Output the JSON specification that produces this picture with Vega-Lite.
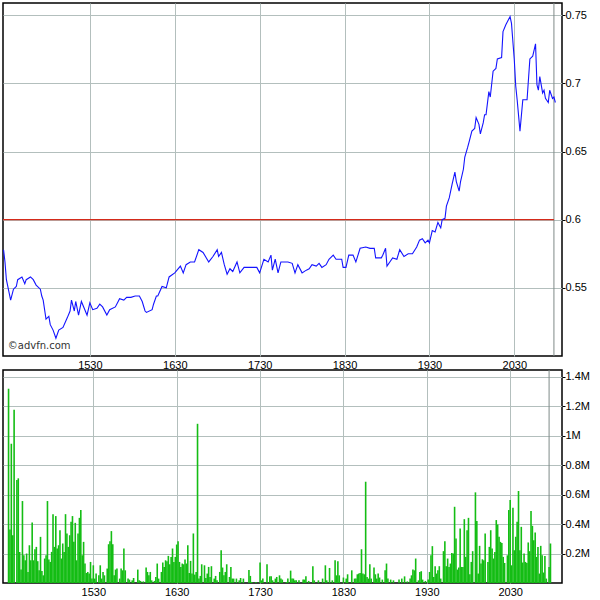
{
  "$schema": "https://vega.github.io/schema/vega-lite/v6.json",
  "padding": {"left": 1, "top": 1, "right": 0, "bottom": 0},
  "autosize": {"type": "pad"},
  "background": "white",
  "spacing": 14,
  "bounds": "flush",
  "config": {
    "view": {"stroke": "black", "strokeWidth": 1.5},
    "axis": {"labelFont": "Liberation Sans", "labelFontSize": 11, "labelColor": "black", "gridColor": "#b3bfbd", "gridOpacity": 1, "gridWidth": 1, "domain": false, "tickColor": "black", "title": null}
  },
  "datasets": {
    "price": [
      {"t":869,"p":0.578},{"t":870,"p":0.569},{"t":871,"p":0.556},{"t":874,"p":0.541},{"t":876,"p":0.549},{"t":878,"p":0.551},{"t":879,"p":0.556},{"t":882,"p":0.558},{"t":884,"p":0.553},{"t":885,"p":0.556},{"t":888,"p":0.558},{"t":890,"p":0.556},{"t":892,"p":0.552},{"t":895,"p":0.549},{"t":896,"p":0.544},{"t":897,"p":0.541},{"t":899,"p":0.527},{"t":901,"p":0.529},{"t":902,"p":0.523},{"t":904,"p":0.519},{"t":906,"p":0.513},{"t":908,"p":0.519},{"t":911,"p":0.521},{"t":914,"p":0.528},{"t":916,"p":0.533},{"t":917,"p":0.541},{"t":919,"p":0.533},{"t":920,"p":0.540},{"t":922,"p":0.530},{"t":924,"p":0.540},{"t":926,"p":0.535},{"t":928,"p":0.530},{"t":930,"p":0.539},{"t":932,"p":0.534},{"t":935,"p":0.535},{"t":937,"p":0.538},{"t":939,"p":0.536},{"t":942,"p":0.530},{"t":944,"p":0.534},{"t":948,"p":0.536},{"t":950,"p":0.540},{"t":951,"p":0.542},{"t":954,"p":0.541},{"t":956,"p":0.543},{"t":959,"p":0.543},{"t":962,"p":0.544},{"t":965,"p":0.544},{"t":967,"p":0.540},{"t":969,"p":0.533},{"t":970,"p":0.532},{"t":974,"p":0.534},{"t":975,"p":0.538},{"t":977,"p":0.544},{"t":978,"p":0.544},{"t":981,"p":0.551},{"t":984,"p":0.550},{"t":986,"p":0.558},{"t":990,"p":0.561},{"t":994,"p":0.566},{"t":996,"p":0.561},{"t":998,"p":0.567},{"t":1001,"p":0.569},{"t":1004,"p":0.569},{"t":1007,"p":0.578},{"t":1010,"p":0.576},{"t":1014,"p":0.569},{"t":1017,"p":0.573},{"t":1020,"p":0.578},{"t":1021,"p":0.573},{"t":1023,"p":0.576},{"t":1025,"p":0.567},{"t":1027,"p":0.560},{"t":1029,"p":0.564},{"t":1031,"p":0.562},{"t":1034,"p":0.569},{"t":1036,"p":0.561},{"t":1039,"p":0.565},{"t":1043,"p":0.565},{"t":1048,"p":0.565},{"t":1050,"p":0.561},{"t":1053,"p":0.571},{"t":1056,"p":0.569},{"t":1058,"p":0.574},{"t":1059,"p":0.563},{"t":1061,"p":0.571},{"t":1063,"p":0.561},{"t":1065,"p":0.569},{"t":1070,"p":0.569},{"t":1073,"p":0.568},{"t":1075,"p":0.561},{"t":1077,"p":0.567},{"t":1080,"p":0.561},{"t":1083,"p":0.563},{"t":1085,"p":0.564},{"t":1087,"p":0.567},{"t":1090,"p":0.566},{"t":1092,"p":0.568},{"t":1094,"p":0.565},{"t":1097,"p":0.567},{"t":1099,"p":0.571},{"t":1102,"p":0.574},{"t":1104,"p":0.571},{"t":1108,"p":0.571},{"t":1109,"p":0.565},{"t":1111,"p":0.565},{"t":1113,"p":0.574},{"t":1116,"p":0.574},{"t":1118,"p":0.569},{"t":1121,"p":0.579},{"t":1125,"p":0.580},{"t":1128,"p":0.579},{"t":1131,"p":0.579},{"t":1132,"p":0.572},{"t":1136,"p":0.572},{"t":1137,"p":0.574},{"t":1139,"p":0.579},{"t":1140,"p":0.566},{"t":1142,"p":0.569},{"t":1144,"p":0.572},{"t":1147,"p":0.571},{"t":1149,"p":0.578},{"t":1152,"p":0.573},{"t":1155,"p":0.575},{"t":1158,"p":0.575},{"t":1161,"p":0.580},{"t":1163,"p":0.585},{"t":1165,"p":0.586},{"t":1167,"p":0.583},{"t":1169,"p":0.585},{"t":1170,"p":0.583},{"t":1172,"p":0.592},{"t":1174,"p":0.591},{"t":1176,"p":0.598},{"t":1178,"p":0.594},{"t":1179,"p":0.600},{"t":1181,"p":0.601},{"t":1182,"p":0.610},{"t":1184,"p":0.616},{"t":1186,"p":0.626},{"t":1188,"p":0.635},{"t":1189,"p":0.628},{"t":1191,"p":0.621},{"t":1192,"p":0.628},{"t":1194,"p":0.637},{"t":1195,"p":0.646},{"t":1197,"p":0.653},{"t":1198,"p":0.657},{"t":1200,"p":0.665},{"t":1202,"p":0.667},{"t":1203,"p":0.675},{"t":1205,"p":0.670},{"t":1206,"p":0.663},{"t":1208,"p":0.671},{"t":1209,"p":0.677},{"t":1210,"p":0.677},{"t":1212,"p":0.694},{"t":1213,"p":0.690},{"t":1215,"p":0.709},{"t":1217,"p":0.711},{"t":1218,"p":0.718},{"t":1221,"p":0.719},{"t":1222,"p":0.738},{"t":1224,"p":0.743},{"t":1225,"p":0.745},{"t":1227,"p":0.749},{"t":1228,"p":0.744},{"t":1230,"p":0.717},{"t":1231,"p":0.698},{"t":1232,"p":0.688},{"t":1234,"p":0.665},{"t":1236,"p":0.688},{"t":1237,"p":0.688},{"t":1239,"p":0.688},{"t":1241,"p":0.718},{"t":1243,"p":0.720},{"t":1245,"p":0.729},{"t":1246,"p":0.699},{"t":1247,"p":0.695},{"t":1248,"p":0.705},{"t":1250,"p":0.693},{"t":1251,"p":0.695},{"t":1252,"p":0.689},{"t":1254,"p":0.686},{"t":1255,"p":0.695},{"t":1257,"p":0.689},{"t":1258,"p":0.690},{"t":1259,"p":0.686}
    ],
    "vol": [
      {"t":869,"v":1.318},{"t":870,"v":0.363},{"t":871,"v":0.944},{"t":872,"v":0.324},{"t":873,"v":1.175},{"t":875,"v":0.699},{"t":876,"v":0.710},{"t":877,"v":0.211},{"t":878,"v":0.091},{"t":879,"v":0.556},{"t":880,"v":0.188},{"t":881,"v":0.154},{"t":882,"v":0.2},{"t":883,"v":0.075},{"t":884,"v":0.256},{"t":885,"v":0.154},{"t":886,"v":0.411},{"t":887,"v":0.154},{"t":888,"v":0.229},{"t":889,"v":0.245},{"t":890,"v":0.148},{"t":891,"v":0.086},{"t":892,"v":0.313},{"t":893,"v":0.082},{"t":894,"v":0.052},{"t":895,"v":0.166},{"t":896,"v":0.188},{"t":897,"v":0.556},{"t":898,"v":0.159},{"t":899,"v":0.143},{"t":900,"v":0.211},{"t":901,"v":0.467},{"t":902,"v":0.245},{"t":903,"v":0.454},{"t":904,"v":0.234},{"t":905,"v":0.256},{"t":906,"v":0.358},{"t":907,"v":0.166},{"t":908,"v":0.268},{"t":909,"v":0.211},{"t":910,"v":0.467},{"t":911,"v":0.336},{"t":912,"v":0.245},{"t":913,"v":0.324},{"t":914,"v":0.415},{"t":915,"v":0.454},{"t":916,"v":0.279},{"t":917,"v":0.408},{"t":918,"v":0.154},{"t":919,"v":0.336},{"t":920,"v":0.442},{"t":921,"v":0.495},{"t":922,"v":0.188},{"t":923,"v":0.279},{"t":924,"v":0.132},{"t":925,"v":0.068},{"t":926,"v":0.075},{"t":927,"v":0.064},{"t":928,"v":0.143},{"t":929,"v":0.030},{"t":930,"v":0.120},{"t":931,"v":0.030},{"t":932,"v":0.064},{"t":934,"v":0.052},{"t":935,"v":0.120},{"t":936,"v":0.030},{"t":937,"v":0.075},{"t":938,"v":0.052},{"t":940,"v":0.098},{"t":941,"v":0.263},{"t":942,"v":0.284},{"t":943,"v":0.352},{"t":944,"v":0.263},{"t":945,"v":0.052},{"t":946,"v":0.091},{"t":947,"v":0.098},{"t":949,"v":0.030},{"t":950,"v":0.098},{"t":951,"v":0.086},{"t":952,"v":0.234},{"t":953,"v":0.086},{"t":955,"v":0.030},{"t":956,"v":0.023},{"t":958,"v":0.018},{"t":959,"v":0.034},{"t":962,"v":0.091},{"t":963,"v":0.018},{"t":964,"v":0.014},{"t":966,"v":0.011},{"t":968,"v":0.105},{"t":969,"v":0.075},{"t":970,"v":0.052},{"t":971,"v":0.075},{"t":972,"v":0.018},{"t":974,"v":0.014},{"t":975,"v":0.041},{"t":976,"v":0.132},{"t":977,"v":0.030},{"t":979,"v":0.075},{"t":980,"v":0.139},{"t":981,"v":0.109},{"t":982,"v":0.154},{"t":983,"v":0.148},{"t":984,"v":0.184},{"t":985,"v":0.127},{"t":986,"v":0.177},{"t":987,"v":0.234},{"t":988,"v":0.143},{"t":989,"v":0.177},{"t":990,"v":0.261},{"t":991,"v":0.284},{"t":992,"v":0.143},{"t":993,"v":0.109},{"t":994,"v":0.132},{"t":995,"v":0.127},{"t":996,"v":0.159},{"t":997,"v":0.132},{"t":998,"v":0.256},{"t":999,"v":0.068},{"t":1000,"v":0.150},{"t":1001,"v":0.064},{"t":1002,"v":0.336},{"t":1003,"v":0.057},{"t":1004,"v":0.075},{"t":1005,"v":1.080},{"t":1006,"v":0.030},{"t":1007,"v":0.048},{"t":1008,"v":0.127},{"t":1010,"v":0.120},{"t":1011,"v":0.034},{"t":1012,"v":0.064},{"t":1013,"v":0.109},{"t":1014,"v":0.041},{"t":1015,"v":0.114},{"t":1017,"v":0.030},{"t":1018,"v":0.048},{"t":1019,"v":0.018},{"t":1021,"v":0.075},{"t":1022,"v":0.222},{"t":1023,"v":0.105},{"t":1024,"v":0.052},{"t":1025,"v":0.075},{"t":1026,"v":0.127},{"t":1028,"v":0.041},{"t":1029,"v":0.109},{"t":1030,"v":0.030},{"t":1031,"v":0.030},{"t":1033,"v":0.030},{"t":1035,"v":0.018},{"t":1036,"v":0.034},{"t":1038,"v":0.030},{"t":1042,"v":0.088},{"t":1043,"v":0.048},{"t":1044,"v":0.007},{"t":1047,"v":0.007},{"t":1050,"v":0.139},{"t":1051,"v":0.018},{"t":1052,"v":0.030},{"t":1055,"v":0.127},{"t":1057,"v":0.045},{"t":1058,"v":0.045},{"t":1059,"v":0.018},{"t":1061,"v":0.030},{"t":1062,"v":0.041},{"t":1064,"v":0.052},{"t":1065,"v":0.030},{"t":1066,"v":0.023},{"t":1069,"v":0.007},{"t":1070,"v":0.030},{"t":1072,"v":0.084},{"t":1073,"v":0.030},{"t":1074,"v":0.030},{"t":1075,"v":0.018},{"t":1076,"v":0.018},{"t":1078,"v":0.018},{"t":1081,"v":0.023},{"t":1082,"v":0.023},{"t":1083,"v":0.045},{"t":1085,"v":0.014},{"t":1088,"v":0.114},{"t":1089,"v":0.018},{"t":1092,"v":0.018},{"t":1095,"v":0.030},{"t":1097,"v":0.120},{"t":1098,"v":0.018},{"t":1100,"v":0.102},{"t":1102,"v":0.018},{"t":1104,"v":0.154},{"t":1105,"v":0.052},{"t":1106,"v":0.148},{"t":1107,"v":0.052},{"t":1110,"v":0.037},{"t":1112,"v":0.030},{"t":1113,"v":0.059},{"t":1116,"v":0.086},{"t":1118,"v":0.030},{"t":1119,"v":0.030},{"t":1120,"v":0.059},{"t":1121,"v":0.064},{"t":1122,"v":0.068},{"t":1123,"v":0.229},{"t":1124,"v":0.064},{"t":1125,"v":0.059},{"t":1126,"v":0.687},{"t":1127,"v":0.041},{"t":1128,"v":0.030},{"t":1129,"v":0.127},{"t":1130,"v":0.030},{"t":1132,"v":0.105},{"t":1133,"v":0.059},{"t":1134,"v":0.030},{"t":1135,"v":0.064},{"t":1136,"v":0.037},{"t":1138,"v":0.023},{"t":1140,"v":0.086},{"t":1141,"v":0.132},{"t":1142,"v":0.030},{"t":1144,"v":0.023},{"t":1146,"v":0.018},{"t":1150,"v":0.023},{"t":1152,"v":0.030},{"t":1154,"v":0.045},{"t":1156,"v":0.011},{"t":1158,"v":0.030},{"t":1159,"v":0.052},{"t":1160,"v":0.091},{"t":1161,"v":0.086},{"t":1162,"v":0.166},{"t":1164,"v":0.018},{"t":1165,"v":0.075},{"t":1166,"v":0.080},{"t":1167,"v":0.023},{"t":1169,"v":0.014},{"t":1171,"v":0.023},{"t":1172,"v":0.075},{"t":1173,"v":0.188},{"t":1174,"v":0.250},{"t":1175,"v":0.041},{"t":1176,"v":0.114},{"t":1177,"v":0.064},{"t":1178,"v":0.086},{"t":1179,"v":0.114},{"t":1180,"v":0.030},{"t":1182,"v":0.216},{"t":1183,"v":0.284},{"t":1184,"v":0.114},{"t":1185,"v":0.166},{"t":1186,"v":0.109},{"t":1187,"v":0.132},{"t":1188,"v":0.204},{"t":1189,"v":0.200},{"t":1190,"v":0.517},{"t":1191,"v":0.302},{"t":1192,"v":0.091},{"t":1193,"v":0.105},{"t":1194,"v":0.370},{"t":1195,"v":0.109},{"t":1196,"v":0.109},{"t":1197,"v":0.433},{"t":1198,"v":0.177},{"t":1199,"v":0.358},{"t":1200,"v":0.442},{"t":1201,"v":0.059},{"t":1202,"v":0.143},{"t":1203,"v":0.216},{"t":1205,"v":0.615},{"t":1206,"v":0.420},{"t":1207,"v":0.064},{"t":1208,"v":0.252},{"t":1209,"v":0.132},{"t":1210,"v":0.161},{"t":1211,"v":0.154},{"t":1212,"v":0.336},{"t":1214,"v":0.143},{"t":1215,"v":0.245},{"t":1216,"v":0.358},{"t":1217,"v":0.234},{"t":1218,"v":0.166},{"t":1219,"v":0.211},{"t":1220,"v":0.427},{"t":1221,"v":0.397},{"t":1222,"v":0.313},{"t":1223,"v":0.279},{"t":1224,"v":0.272},{"t":1225,"v":0.177},{"t":1226,"v":0.136},{"t":1228,"v":0.188},{"t":1229,"v":0.495},{"t":1230,"v":0.563},{"t":1231,"v":0.120},{"t":1232,"v":0.510},{"t":1233,"v":0.222},{"t":1234,"v":0.313},{"t":1235,"v":0.415},{"t":1236,"v":0.624},{"t":1237,"v":0.222},{"t":1238,"v":0.381},{"t":1239,"v":0.139},{"t":1240,"v":0.200},{"t":1241,"v":0.143},{"t":1242,"v":0.136},{"t":1243,"v":0.275},{"t":1244,"v":0.216},{"t":1245,"v":0.488},{"t":1246,"v":0.388},{"t":1247,"v":0.290},{"t":1248,"v":0.343},{"t":1249,"v":0.177},{"t":1250,"v":0.245},{"t":1251,"v":0.064},{"t":1252,"v":0.252},{"t":1253,"v":0.188},{"t":1254,"v":0.071},{"t":1255,"v":0.184},{"t":1256,"v":0.030},{"t":1258,"v":0.109},{"t":1259,"v":0.268}
    ],
    "marks": [{"t": 1258, "t0": 868.6, "p": 0.6}],
    "credit": [{"t": 872, "p": 0.5035, "label": "©advfn.com"}]
  },
  "vconcat": [
    {
      "width": 559,
      "height": 353,
      "layer": [
        {
          "data": {"name": "marks"},
          "mark": {"type": "rule", "color": "#7f8a88", "strokeWidth": 1},
          "encoding": {
            "x": {"field": "t", "type": "quantitative", "scale": {"domain": [868.6, 1263.7], "nice": false, "zero": false},
              "axis": {"orient": "bottom", "values": [930, 990, 1050, 1110, 1170, 1230], "labelExpr": "floor(datum.value/60)*100 + datum.value%60", "ticks": false, "labelPadding": 3, "grid": true}}
          }
        },
        {
          "data": {"name": "marks"},
          "mark": {"type": "rule", "color": "#d42a1a", "strokeWidth": 1.2},
          "encoding": {
            "y": {"field": "p", "type": "quantitative"},
            "x": {"field": "t0", "type": "quantitative"},
            "x2": {"field": "t"}
          }
        },
        {
          "data": {"name": "credit"},
          "mark": {"type": "text", "align": "left", "baseline": "bottom", "font": "DejaVu Sans", "fontSize": 10, "color": "#333333"},
          "encoding": {
            "x": {"field": "t", "type": "quantitative"},
            "y": {"field": "p", "type": "quantitative"},
            "text": {"field": "label"}
          }
        },
        {
          "data": {"name": "price"},
          "mark": {"type": "line", "color": "#1414ff", "strokeWidth": 1.1, "clip": true},
          "encoding": {
            "x": {"field": "t", "type": "quantitative"},
            "y": {"field": "p", "type": "quantitative", "scale": {"domain": [0.5, 0.759], "nice": false, "zero": false},
              "axis": {"orient": "right", "values": [0.55, 0.6, 0.65, 0.7, 0.75], "labelExpr": "datum.value + ''", "tickSize": 3, "labelPadding": 0, "grid": true}}
          }
        }
      ]
    },
    {
      "width": 559,
      "height": 213,
      "layer": [
        {
          "data": {"name": "marks"},
          "mark": {"type": "rule", "color": "#7f8a88", "strokeWidth": 1},
          "encoding": {
            "x": {"field": "t", "type": "quantitative", "scale": {"domain": [868.6, 1263.7], "nice": false, "zero": false},
              "axis": {"orient": "bottom", "values": [930, 990, 1050, 1110, 1170, 1230], "labelExpr": "floor(datum.value/60)*100 + datum.value%60", "ticks": false, "labelPadding": 3, "grid": true}}
          }
        },
        {
          "data": {"name": "vol"},
          "mark": {"type": "bar", "color": "#14bd14", "size": 1.6, "clip": true},
          "encoding": {
            "x": {"field": "t", "type": "quantitative"},
            "y": {"field": "v", "type": "quantitative", "scale": {"domain": [0, 1.445], "nice": false},
              "axis": {"orient": "right", "values": [0.2, 0.4, 0.6, 0.8, 1, 1.2, 1.4], "labelExpr": "datum.value + 'M'", "tickSize": 3, "labelPadding": 0, "grid": true}}
          }
        }
      ]
    }
  ]
}
